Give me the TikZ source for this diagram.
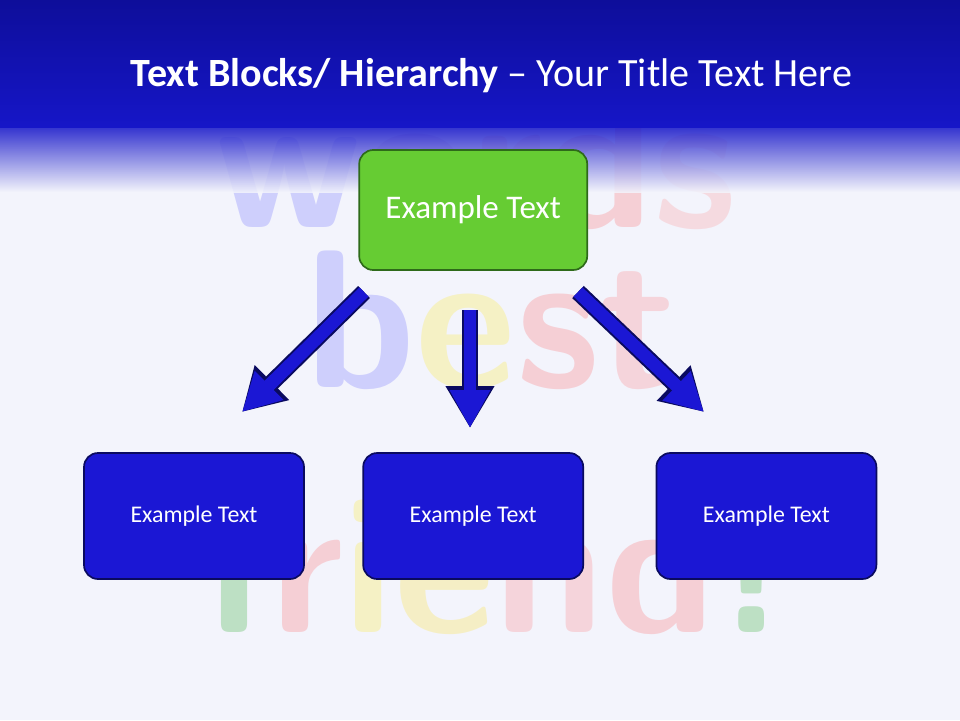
\documentclass[tikz,border=0pt]{standalone}
\usepackage{fontspec}
\setmainfont{Carlito}
\usetikzlibrary{arrows.meta}
\definecolor{headblue}{HTML}{1616C8}
\definecolor{headdark}{HTML}{0E0E9A}
\definecolor{boxblue}{HTML}{1B17D4}
\definecolor{boxline}{HTML}{0A0A60}
\definecolor{greenbox}{HTML}{66CC33}
\definecolor{greenline}{HTML}{2E6A1A}
\definecolor{pageback}{HTML}{F3F4FC}
\tikzset{
  subbox/.style={draw=boxline, line width=1.2pt, fill=boxblue, rounded corners=0.35cm,
    minimum width=5.5cm, minimum height=3.15cm, text=white, font=\fontsize{17}{20}\selectfont},
  topbox/.style={draw=greenline, line width=1.2pt, fill=greenbox, rounded corners=0.35cm,
    minimum width=5.7cm, minimum height=3cm, text=white, font=\fontsize{23.5}{28}\selectfont},
  blockarrow/.style={line width=0.32cm, boxblue, -{Triangle[length=0.95cm,width=0.95cm]}},
  arrowrim/.style={line width=0.42cm, boxline, -{Triangle[length=1.05cm,width=1.15cm]}},
  bigword/.style={font=\sffamily\bfseries\fontsize{140}{140}\selectfont, opacity=0.22}
}
\begin{document}
\begin{tikzpicture}
  \useasboundingbox (0,0) rectangle (24,18);
  % page
  \fill[pageback] (0,0) rectangle (24,18);
  % faint background words
  \node[bigword] (wordA) at (11.9,14.0) {\textcolor{blue!70}{w}\textcolor{violet!60}{o}\textcolor{red!60}{r}\textcolor{red!70}{d}\textcolor{red!50}{s}};
  \node[bigword] (wordB) at (12.3,10.0) {\textcolor{blue!70}{b}\textcolor{yellow!90!orange}{e}\textcolor{red!70}{s}\textcolor{red!60}{t}};
  \node[bigword] (wordC) at (12.4,3.9) {\textcolor{green!60!black}{f}\textcolor{red!70}{r}\textcolor{yellow!90!orange}{i}\textcolor{yellow!80!orange}{e}\textcolor{red!60}{n}\textcolor{red!70}{d}\textcolor{green!60!black}{!}};
  % header
  \shade[top color=headblue, bottom color=pageback, opacity=0.85] (0,13.2) rectangle (24,14.8);
  \shade[top color=headdark, bottom color=headblue] (0,14.8) rectangle (24,18);
  % title
  \node[anchor=west, text=white, font=\fontsize{28.5}{34}\selectfont] (title) at (3.15,16.1)
    {\textbf{Text Blocks/ Hierarchy} -- Your Title Text Here};
  % boxes
  \node[topbox] (top) at (11.83,12.75) {Example Text};
  \node[subbox] (left) at (4.85,5.1) {Example Text};
  \node[subbox] (mid) at (11.83,5.1) {Example Text};
  \node[subbox] (right) at (19.16,5.1) {Example Text};
  % arrows
  \coordinate (lA) at (9.1,10.7);  \coordinate (lB) at (6.05,7.7);
  \coordinate (mA) at (11.75,10.25); \coordinate (mB) at (11.75,7.3);
  \coordinate (rA) at (14.45,10.7); \coordinate (rB) at (17.6,7.7);
  \foreach \a/\b in {lA/lB, mA/mB, rA/rB} {
    \draw[arrowrim] (\a) -- (\b);
    \draw[blockarrow] (\a) -- (\b);
  }
\end{tikzpicture}
\end{document}
